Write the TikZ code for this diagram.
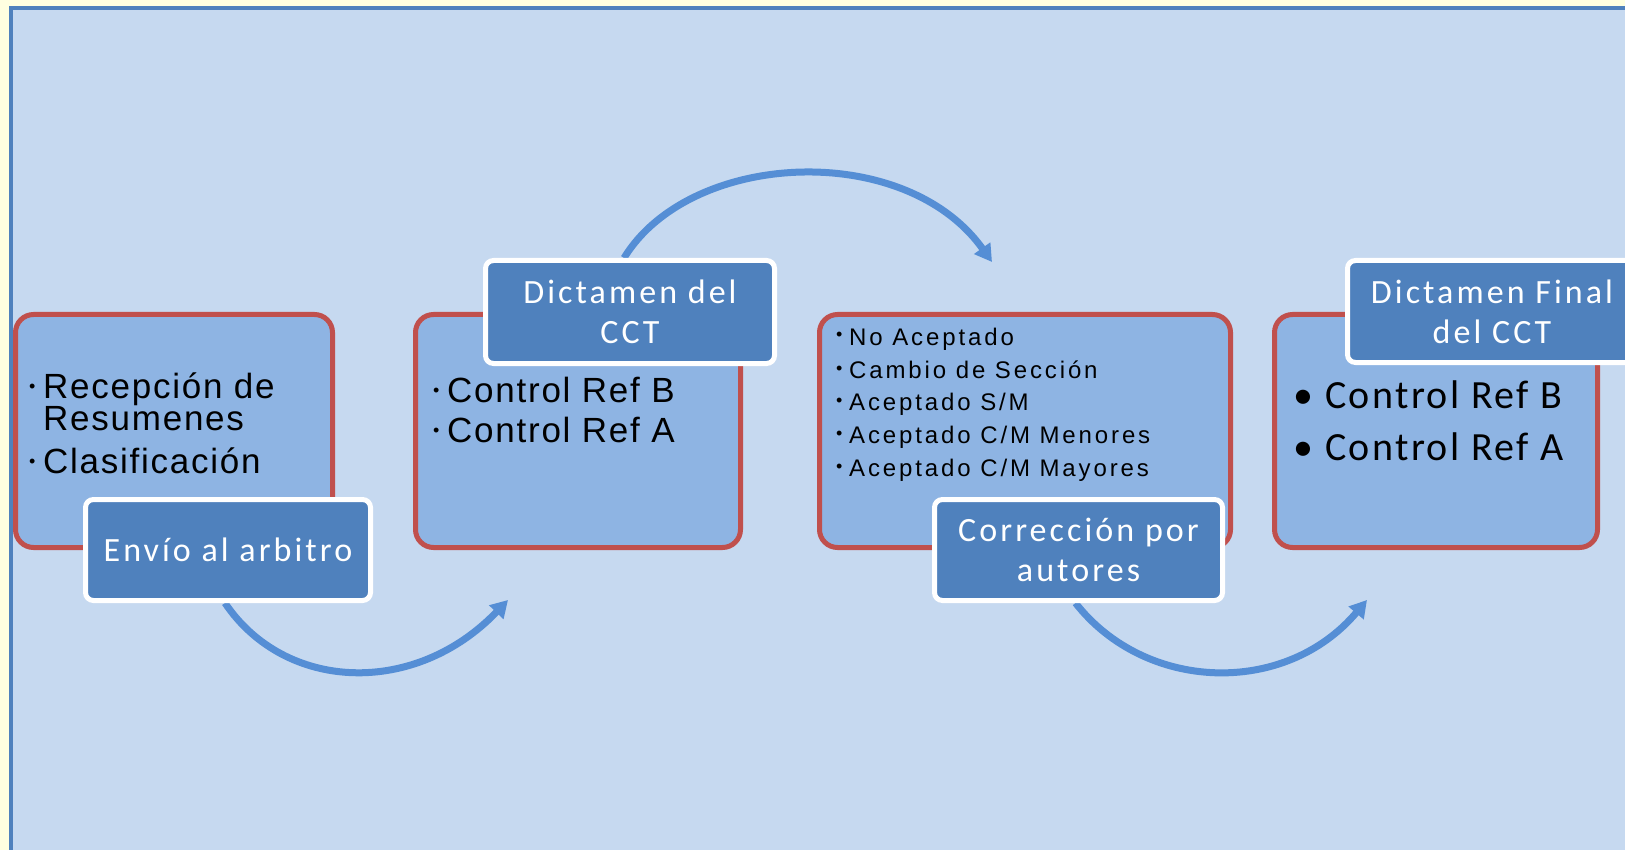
\documentclass[tikz,border=0pt]{standalone}
\usepackage{fontspec}
\usetikzlibrary{arrows.meta}
\newfontfamily\fntA{Liberation Sans}[LetterSpace=5]
\newfontfamily\fntB{Liberation Sans}[LetterSpace=12]
\newfontfamily\fntC{Carlito}[LetterSpace=6]
\newfontfamily\fntD{Carlito}[LetterSpace=9]
\definecolor{bgyellow}{HTML}{FFFFE0}
\definecolor{panel}{HTML}{C6D9F0}
\definecolor{panelline}{HTML}{4F81BD}
\definecolor{boxfill}{HTML}{8EB4E3}
\definecolor{boxline}{HTML}{C0504D}
\definecolor{labfill}{HTML}{4F81BD}
\definecolor{arrowc}{HTML}{558ED5}
\pgfdeclarelayer{bglayer}
\pgfdeclarelayer{arrowlayer}
\pgfsetlayers{bglayer,arrowlayer,main}
\begin{document}
\begin{tikzpicture}[x=1pt,y=-1pt,
  redbox/.style={draw=boxline, fill=boxfill, line width=5pt, rounded corners=18pt,
    inner sep=0pt, minimum height=233pt},
  labelbox/.style={draw=white, fill=labfill, line width=5pt, rounded corners=8pt,
    inner sep=0pt, text=white, align=center, font=\fntD\fontsize{34}{40}\selectfont},
  txtA/.style={anchor=base west, inner sep=0pt, font=\fntA\fontsize{35}{40}\selectfont},
  txtB/.style={anchor=base west, inner sep=0pt, font=\fntB\fontsize{24}{30}\selectfont},
  txtC/.style={anchor=base west, inner sep=0pt, font=\fntC\fontsize{40}{46}\selectfont},
  bulA/.style={anchor=base west, inner sep=0pt, font=\fntA\fontsize{18}{20}\selectfont},
  bulC/.style={anchor=base west, inner sep=0pt, font=\fntC\fontsize{40}{46}\selectfont},
  arr/.style={draw=arrowc, line width=7pt, -{Triangle[length=17pt,width=19pt]}}
]
\useasboundingbox (0,0) rectangle (1625,850);
\clip (0,0) rectangle (1625,850);
\begin{pgfonlayer}{bglayer}
\fill[bgyellow] (0,0) rectangle (1625,850);
\draw[panelline, fill=panel, line width=4pt] (11,8.5) rectangle (1660,880);
\end{pgfonlayer}

% process boxes
\node[redbox, minimum width=317pt] (B1) at (174,431) {};
\node[redbox, minimum width=325pt] (B2) at (578,431) {};
\node[redbox, minimum width=411pt] (B3) at (1025,431) {};
\node[redbox, minimum width=323pt] (B4) at (1436,431) {};

% box 1 text
\node[bulA] (b1a) at (29,392) {•};
\node[txtA] (t1a) at (43,398) {Recepción de};
\node[txtA] (t1b) at (43,430) {Resumenes};
\node[bulA] (b1b) at (29,467) {•};
\node[txtA] (t1c) at (43,473) {Clasificación};

% box 2 text
\node[bulA] (b2a) at (433,396) {•};
\node[txtA] (t2a) at (447,402) {Control Ref B};
\node[bulA] (b2b) at (433,436) {•};
\node[txtA] (t2b) at (447,442) {Control Ref A};

% box 3 text
\node[bulA] (b3a) at (836,341) {•};
\node[txtB] (t3a) at (849,345) {No Aceptado};
\node[bulA] (b3b) at (836,374) {•};
\node[txtB] (t3b) at (849,378) {Cambio de Sección};
\node[bulA] (b3c) at (836,406) {•};
\node[txtB] (t3c) at (849,410) {Aceptado S/M};
\node[bulA] (b3d) at (836,439) {•};
\node[txtB] (t3d) at (849,443) {Aceptado C/M Menores};
\node[bulA] (b3e) at (836,472) {•};
\node[txtB] (t3e) at (849,476) {Aceptado C/M Mayores};

% box 4 text
\node[bulC] (b4a) at (1293,408) {•};
\node[txtC] (t4a) at (1325,408) {Control Ref B};
\node[bulC] (b4b) at (1293,460) {•};
\node[txtC] (t4b) at (1325,460) {Control Ref A};

% labels
\node[labelbox, minimum width=285pt, minimum height=101pt] (L1) at (228,550) {Envío al arbitro};
\node[labelbox, minimum width=289pt, minimum height=103pt] (L2) at (630,312) {Dictamen del\\CCT};
\node[labelbox, minimum width=288pt, minimum height=101pt] (L3) at (1078.5,550) {Corrección por\\autores};
\node[labelbox, minimum width=289pt, minimum height=102pt] (L4) at (1492,311.5) {Dictamen Final\\del CCT};

% arrow ends
\coordinate (a1e) at (508,600);
\coordinate (a2e) at (992,262);
\coordinate (a3e) at (1367,600);

\begin{pgfonlayer}{arrowlayer}
\draw[arr] ([xshift=-3pt]L1.south) .. controls (285,692) and (415,697) .. (a1e);
\draw[arr] ([xshift=-6pt]L2.north) .. controls (690,150) and (905,140) .. (a2e);
\draw[arr] ([xshift=-3pt]L3.south) .. controls (1145,692) and (1285,697) .. (a3e);
\end{pgfonlayer}
\end{tikzpicture}
\end{document}
